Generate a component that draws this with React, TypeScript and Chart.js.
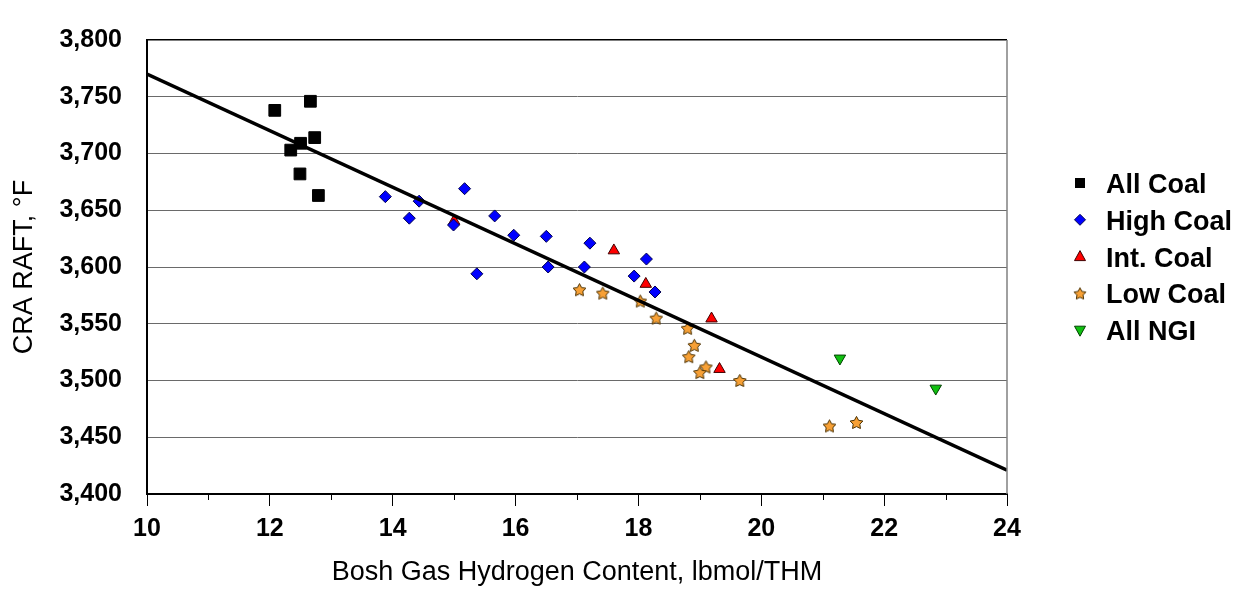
import { useEffect, useRef } from 'react';
import { Chart, registerables } from 'chart.js';

Chart.register(...registerables);

// Bosh gas hydrogen content (lbmol/THM) vs CRA RAFT (°F), by injection practice
const allCoalX = [12.08, 12.66, 12.73, 12.50, 12.34, 12.49, 12.79];
const allCoalY = [3738, 3746, 3714, 3709, 3703, 3682, 3663];

const highCoalX = [13.88, 14.43, 15.17, 14.27, 14.99, 15.66, 15.97, 15.37, 16.50, 16.53, 17.12, 17.21, 18.13, 17.93, 18.27];
const highCoalY = [3662, 3658, 3669, 3643, 3637, 3645, 3628, 3594, 3627, 3600, 3600, 3621, 3607, 3592, 3578];

const intCoalX = [15.00, 17.60, 18.12, 19.19, 19.32];
const intCoalY = [3640.5, 3614.5, 3585, 3554.5, 3510];

const lowCoalX = [17.04, 17.42, 18.03, 18.29, 18.80, 18.91, 18.82, 19.10, 19.00, 19.65, 21.11, 21.55];
const lowCoalY = [3580, 3577, 3570, 3555, 3546, 3531, 3521, 3512, 3507, 3500, 3460, 3463];

const ngiX = [21.28, 22.84];
const ngiY = [3519.5, 3493];

// Linear fit across all practices
const trendX = [10, 24];
const trendY = [3770, 3421];

const seriesNames = ['All Coal', 'High Coal', 'Int. Coal', 'Low Coal', 'All NGI'];

const xTitle = 'Bosh Gas Hydrogen Content, lbmol/THM';
const yTitle = 'CRA RAFT, °F';

const FONT = "'Liberation Sans', Arial, Helvetica, sans-serif";

const toPoints = (xs: number[], ys: number[]) => xs.map((x, i) => ({ x, y: ys[i] }));

const withThousands = (v: number | string) =>
  String(v).replace(/\B(?=(\d{3})+(?!\d))/g, ',');

function makeStar(size: number, fill: string, stroke: string) {
  const c = document.createElement('canvas');
  c.width = size;
  c.height = size;
  const g = c.getContext('2d') as CanvasRenderingContext2D;
  const cx = size / 2;
  const cy = size / 2 + 0.6;
  const R = size / 2 - 0.8;
  const r = R * 0.52;
  g.beginPath();
  for (let i = 0; i < 10; i++) {
    const a = -Math.PI / 2 + (i * Math.PI) / 5;
    const rr = i % 2 === 0 ? R : r;
    g.lineTo(cx + rr * Math.cos(a), cy + rr * Math.sin(a));
  }
  g.closePath();
  g.fillStyle = fill;
  g.fill();
  g.strokeStyle = stroke;
  g.lineWidth = 1;
  g.stroke();
  return c;
}

const COLORS = {
  all: '#000000',
  high: '#0000FF',
  int: '#FF0000',
  low: '#F7A035',
  ngi: '#10C010',
};

export default function App() {
  const canvasRef = useRef<HTMLCanvasElement | null>(null);

  useEffect(() => {
    const canvas = canvasRef.current;
    if (!canvas) return;

    const star = makeStar(15, COLORS.low, '#4a3000');
    const legendStar = makeStar(14, COLORS.low, '#4a3000');

    // Legend drawn to the right of the plot, plus minor x ticks and right frame edge
    const decorations = {
      id: 'decorations',
      afterDraw(chart: any) {
        const { ctx, chartArea, scales } = chart;
        ctx.save();

        // right frame edge
        ctx.strokeStyle = '#808080';
        ctx.lineWidth = 1.5;
        ctx.beginPath();
        ctx.moveTo(chartArea.right, chartArea.top);
        ctx.lineTo(chartArea.right, chartArea.bottom);
        ctx.stroke();

        // minor ticks on the x axis
        ctx.strokeStyle = '#000';
        ctx.lineWidth = 1;
        for (let v = 11; v < 24; v += 2) {
          const px = Math.round(scales.x.getPixelForValue(v)) + 0.5;
          ctx.beginPath();
          ctx.moveTo(px, chartArea.bottom);
          ctx.lineTo(px, chartArea.bottom + 6);
          ctx.stroke();
        }

        // legend
        const mx = 1080;
        const tx = 1106;
        ctx.font = `bold 27px ${FONT}`;
        ctx.fillStyle = '#000';
        ctx.textAlign = 'left';
        ctx.textBaseline = 'alphabetic';
        seriesNames.forEach((name, i) => {
          const base = 193 + i * 36.8;
          const cy = base - 10;
          ctx.lineWidth = 1;
          if (i === 0) {
            ctx.fillStyle = COLORS.all;
            ctx.fillRect(mx - 5, cy - 5, 10, 10);
          } else if (i === 1) {
            ctx.beginPath();
            ctx.moveTo(mx, cy - 5.5);
            ctx.lineTo(mx + 5.5, cy);
            ctx.lineTo(mx, cy + 5.5);
            ctx.lineTo(mx - 5.5, cy);
            ctx.closePath();
            ctx.fillStyle = COLORS.high;
            ctx.fill();
            ctx.strokeStyle = '#000050';
            ctx.stroke();
          } else if (i === 2) {
            ctx.beginPath();
            ctx.moveTo(mx, cy - 6);
            ctx.lineTo(mx + 5.5, cy + 4);
            ctx.lineTo(mx - 5.5, cy + 4);
            ctx.closePath();
            ctx.fillStyle = COLORS.int;
            ctx.fill();
            ctx.strokeStyle = '#400000';
            ctx.stroke();
          } else if (i === 3) {
            ctx.drawImage(legendStar, mx - legendStar.width / 2, cy - legendStar.height / 2);
          } else {
            ctx.beginPath();
            ctx.moveTo(mx, cy + 6);
            ctx.lineTo(mx + 5.5, cy - 4);
            ctx.lineTo(mx - 5.5, cy - 4);
            ctx.closePath();
            ctx.fillStyle = COLORS.ngi;
            ctx.fill();
            ctx.strokeStyle = '#004000';
            ctx.stroke();
          }
          ctx.fillStyle = '#000';
          ctx.fillText(name, tx, base);
        });
        ctx.restore();
      },
    };

    const chart = new Chart(canvas, {
      type: 'scatter',
      data: {
        datasets: [
          {
            label: 'Fit',
            data: toPoints(trendX, trendY),
            showLine: true,
            borderColor: '#000',
            borderWidth: 3.5,
            pointRadius: 0,
            fill: false,
          } as any,
          {
            label: seriesNames[0],
            data: toPoints(allCoalX, allCoalY),
            pointStyle: 'rect',
            pointRadius: 8.3,
            backgroundColor: COLORS.all,
            borderColor: '#000',
            borderWidth: 1,
          },
          {
            label: seriesNames[1],
            data: toPoints(highCoalX, highCoalY),
            pointStyle: 'rectRot',
            pointRadius: 6,
            backgroundColor: COLORS.high,
            borderColor: '#000050',
            borderWidth: 1,
          },
          {
            label: seriesNames[2],
            data: toPoints(intCoalX, intCoalY),
            pointStyle: 'triangle',
            pointRadius: 6.6,
            backgroundColor: COLORS.int,
            borderColor: '#400000',
            borderWidth: 1,
          },
          {
            label: seriesNames[3],
            data: toPoints(lowCoalX, lowCoalY),
            pointStyle: star,
            pointRadius: 7,
            backgroundColor: COLORS.low,
            borderColor: '#4a3000',
            borderWidth: 1,
          },
          {
            label: seriesNames[4],
            data: toPoints(ngiX, ngiY),
            pointStyle: 'triangle',
            rotation: 180,
            pointRadius: 6.6,
            backgroundColor: COLORS.ngi,
            borderColor: '#004000',
            borderWidth: 1,
          },
        ],
      },
      options: {
        animation: false,
        responsive: true,
        maintainAspectRatio: false,
        events: [],
        layout: { padding: { top: 19, right: 240, left: 0, bottom: 0 } },
        plugins: {
          legend: { display: false },
          tooltip: { enabled: false },
        },
        scales: {
          x: {
            type: 'linear',
            min: 10,
            max: 24,
            afterFit(scale: any) {
              scale.height = 97;
            },
            border: { display: true, color: '#000', width: 2 },
            grid: {
              drawOnChartArea: false,
              drawTicks: true,
              tickLength: 12,
              color: (c: any) =>
                c.tick && Number(c.tick.value) % 2 === 0 ? '#000' : 'rgba(0,0,0,0)',
              lineWidth: 1,
            },
            ticks: {
              stepSize: 1,
              autoSkip: false,
              maxRotation: 0,
              minRotation: 0,
              padding: 8,
              color: '#000',
              font: { family: FONT, size: 25, weight: 'bold' },
              callback: (v: any) => (Number(v) % 2 === 0 ? String(v) : ''),
            },
            title: {
              display: true,
              text: xTitle,
              color: '#000',
              font: { family: FONT, size: 27, weight: 'normal' },
              padding: { top: 0, bottom: 2 },
            },
          },
          y: {
            type: 'linear',
            min: 3400,
            max: 3800,
            afterFit(scale: any) {
              scale.width = 147;
            },
            border: { display: true, color: '#000', width: 2 },
            grid: {
              drawTicks: false,
              color: (c: any) => (c.tick && c.tick.value === 3800 ? '#000' : '#6a6a6a'),
              lineWidth: (c: any) => (c.tick && c.tick.value === 3800 ? 1.5 : 1),
            },
            ticks: {
              stepSize: 50,
              padding: 25,
              color: '#000',
              font: { family: FONT, size: 25, weight: 'bold' },
              callback: (v: any) => withThousands(v),
            },
            title: {
              display: true,
              text: yTitle,
              color: '#000',
              font: { family: FONT, size: 27, weight: 'normal' },
              padding: { top: 8, bottom: 0 },
            },
          },
        },
      },
      plugins: [decorations],
    });

    return () => {
      chart.destroy();
    };
  }, []);

  return (
    <div style={{ position: 'absolute', left: 0, top: 0, width: 1247, height: 591, background: '#fff' }}>
      <canvas ref={canvasRef} />
    </div>
  );
}
